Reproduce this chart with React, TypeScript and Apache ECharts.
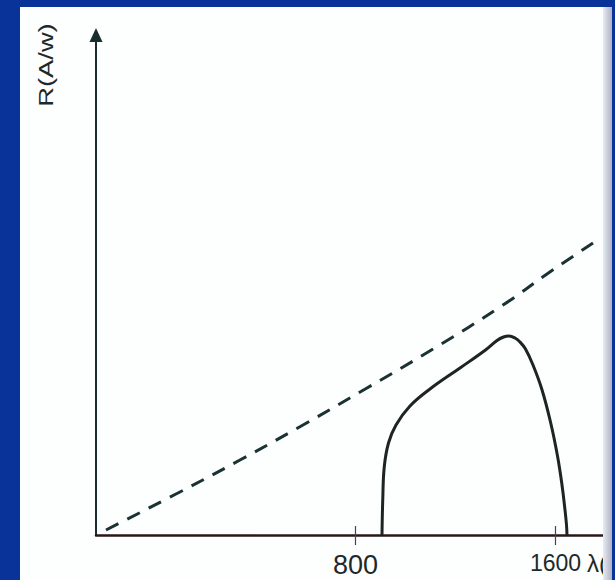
import React, { useEffect, useRef } from "react";
import * as echarts from "echarts";

// Wavelength (nm) and responsivity (arbitrary units, 0–100 of axis height)
const lambdaIdeal = [-198, 86, 338, 590, 846, 1110, 1390, 1566, 1750];
const rIdeal = [1, 8.3, 15, 22, 29.4, 37.2, 46, 52.2, 58.4];

const lambdaReal = [906, 909, 915, 932, 962, 1018, 1098, 1218, 1320, 1366, 1392, 1414, 1438, 1458, 1480, 1510, 1545, 1580, 1608, 1626, 1638, 1644, 1646];
const rReal = [0, 7, 13.6, 18.4, 22, 25.8, 29.2, 33.4, 37, 38.9, 39.6, 39.8, 39.4, 38.6, 37.2, 34, 29.2, 22.6, 15.8, 10, 5, 2, 0];

const xTickValues = [800, 1600];
const yAxisTitle = "R(A/w)";
const xAxisTitle = "λ(nm)";

const W = 615;
const H = 580;
const BLUE = "#0a3399";
const INK = "#1c2424";

export default function App() {
  const ref = useRef<HTMLDivElement>(null);

  useEffect(() => {
    if (!ref.current) return;
    const chart = echarts.init(ref.current, null, { renderer: "svg" });
    const ideal = lambdaIdeal.map((x, i) => [x, rIdeal[i]]);
    const real = lambdaReal.map((x, i) => [x, rReal[i]]);

    chart.setOption({
      animation: false,
      backgroundColor: "#fdfefe",
      grid: { left: 96, right: 0, top: 35, bottom: 45, containLabel: false },
      xAxis: [
        {
          type: "value",
          min: -238,
          max: 1838,
          position: "bottom",
          axisLine: { show: true, onZero: false, lineStyle: { color: "#2a1818", width: 2.5 } },
          axisTick: {
            show: true,
            customValues: xTickValues,
            length: 10,
            lineStyle: { color: "#3a4a4a", width: 1.2 },
          },
          axisLabel: {
            show: true,
            customValues: xTickValues,
            margin: 16,
            color: "#1e2a2a",
            fontFamily: "Liberation Sans, Arial, sans-serif",
            formatter: (v: number) => (v === 800 ? `{a|${v}}` : `{b|${v}}`),
            rich: {
              a: { fontSize: 27, color: "#1e2a2a", fontFamily: "Liberation Sans, Arial, sans-serif" },
              b: { fontSize: 23, color: "#1e2a2a", fontFamily: "Liberation Sans, Arial, sans-serif", padding: [0, 0, 4, 0] },
            },
          },
          splitLine: { show: false },
        },
        {
          type: "value",
          min: -238,
          max: 1838,
          position: "bottom",
          axisLine: { show: false, onZero: false },
          axisTick: {
            show: true,
            inside: true,
            customValues: xTickValues,
            length: 9,
            lineStyle: { color: "#3a4a4a", width: 1.2 },
          },
          axisLabel: { show: false },
          splitLine: { show: false },
        },
      ],
      yAxis: {
        type: "value",
        min: 0,
        max: 100,
        axisLine: {
          show: true,
          onZero: false,
          symbol: ["none", "triangle"],
          symbolSize: [13, 14],
          lineStyle: { color: "#1a2c2c", width: 2 },
        },
        axisTick: { show: false },
        axisLabel: { show: false },
        splitLine: { show: false },
      },
      series: [
        {
          type: "line",
          data: ideal,
          smooth: 0.5,
          showSymbol: false,
          symbol: "none",
          lineStyle: { color: "#1a3232", width: 3, type: [14, 10] },
          z: 3,
        },
        {
          type: "line",
          data: real,
          smooth: 0.4,
          showSymbol: false,
          symbol: "none",
          lineStyle: { color: INK, width: 3 },
          z: 4,
        },
      ],
      graphic: [
        {
          type: "text",
          x: 46,
          y: 65,
          rotation: Math.PI / 2,
          scaleX: 1.3,
          style: {
            text: yAxisTitle,
            fontSize: 21,
            fill: "#1e2a2a",
            fontFamily: "Liberation Sans, Arial, sans-serif",
            align: "center",
            verticalAlign: "middle",
          },
          z: 50,
        },
        {
          type: "text",
          x: 587,
          y: 551,
          style: {
            text: xAxisTitle,
            fontSize: 24,
            fill: "#1e2a2a",
            fontFamily: "Liberation Sans, Arial, sans-serif",
            align: "left",
            verticalAlign: "top",
          },
          z: 50,
        },
        {
          type: "rect",
          shape: { x: 603, y: 0, width: 10, height: H },
          style: {
            fill: new echarts.graphic.LinearGradient(0, 0, 1, 0, [
              { offset: 0, color: "#e6eef2" },
              { offset: 1, color: "#a8a8c0" },
            ]),
          },
          z: 100,
        },
        { type: "rect", shape: { x: 0, y: 0, width: 20, height: H }, style: { fill: BLUE }, z: 101 },
        { type: "rect", shape: { x: 0, y: 0, width: W, height: 7 }, style: { fill: BLUE }, z: 101 },
        { type: "rect", shape: { x: 612, y: 0, width: 3, height: H }, style: { fill: BLUE }, z: 101 },
      ],
    });

    return () => chart.dispose();
  }, []);

  return (
    <div
      ref={ref}
      style={{ position: "fixed", left: 0, top: 0, width: W, height: H }}
    />
  );
}
